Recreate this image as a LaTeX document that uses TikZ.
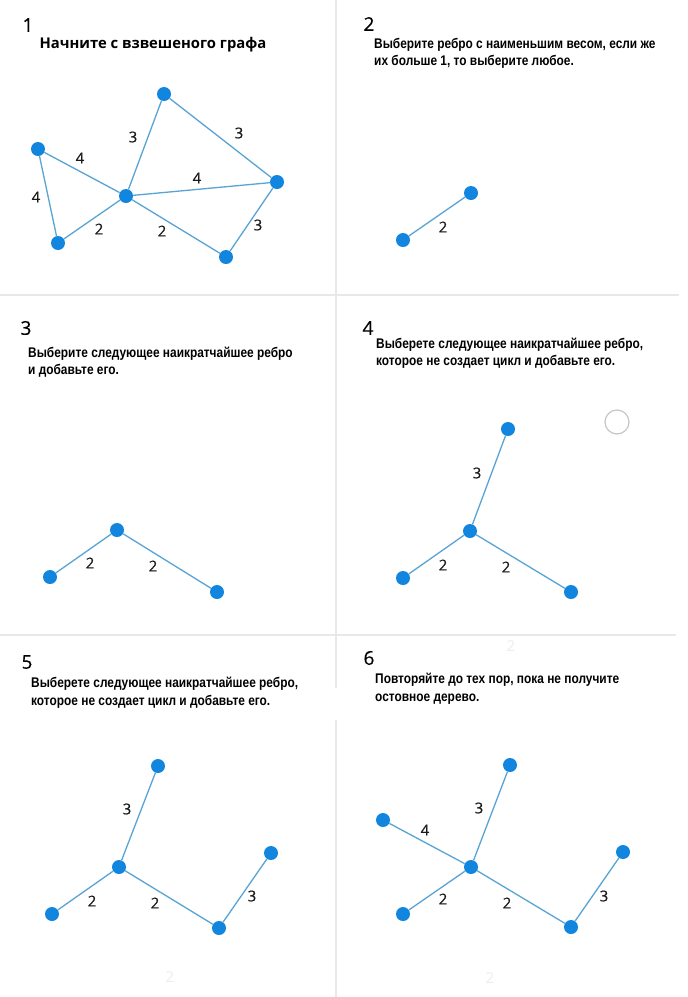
\documentclass[tikz,border=0pt]{standalone}
\usepackage{fontspec}
\usepackage{tikz}
\setmainfont{Open Sans}
\newfontfamily\narrowfont[FakeStretch=0.85]{Liberation Sans}
\newfontfamily\weightfont[FakeBold=0.4]{Open Sans}
\definecolor{dotblue}{RGB}{18,134,222}
\definecolor{lineblue}{RGB}{88,164,212}
\definecolor{rulegray}{RGB}{232,232,232}
\tikzset{
    vertex/.style = {circle, fill=dotblue, inner sep=0pt, minimum size=14pt},
    wt/.style     = {font=\weightfont\fontsize{15}{15}\selectfont, text=black!90, inner sep=0pt},
    stepno/.style = {font=\weightfont\fontsize{19}{19}\selectfont, inner sep=0pt},
    caption/.style= {font=\narrowfont\bfseries\fontsize{14}{17.5}\selectfont, align=left,
                     anchor=north west, inner sep=0pt},
    ghost/.style  = {font=\fontsize{15}{15}\selectfont, text=black!7, inner sep=0pt}
}

\begin{document}
\begin{tikzpicture}[x=1pt, y=-1pt, every edge/.style={draw=lineblue, line width=1.3pt}]
    \useasboundingbox [fill=white] (0,0) rectangle (688,997);

    % Grid lines
    \draw [rulegray, line width=1.5pt] (0,295) -- (679,295);
    \draw [rulegray, line width=1.5pt] (0,635) -- (676,635);
    \draw [rulegray, line width=1.5pt] (336,0) -- (336,688);
    \draw [rulegray, line width=1.5pt] (336,720) -- (336,997);

    % Step numbers and captions
    \node [stepno] (n1) at (28,25)  {1};
    \node [stepno] (n2) at (369,24) {2};
    \node [stepno] (n3) at (26,328) {3};
    \node [stepno] (n4) at (368,328) {4};
    \node [stepno] (n5) at (27,662) {5};
    \node [stepno] (n6) at (369,658) {6};

    \node [font=\bfseries\fontsize{14.8}{14.8}\selectfont, inner sep=0pt] (cap1) at (153,45)
        {Начните с взвешеного графа};
    \node [caption] (cap2) at (374,38)
        {Выберите ребро с наименьшим весом, если же\\их больше 1, то выберите любое.};
    \node [caption] (cap3) at (28,346.5)
        {Выберите следующее наикратчайшее ребро\\и добавьте его.};
    \node [caption] (cap4) at (376,337.5)
        {Выберете следующее наикратчайшее ребро,\\которое не создает цикл и добавьте его.};
    \node [caption] (cap5) at (31,677)
        {Выберете следующее наикратчайшее ребро,\\которое не создает цикл и добавьте его.};
    \node [caption] (cap6) at (375,673)
        {Повторяйте до тех пор, пока не получите\\остовное дерево.};

    % Panel 1: the weighted graph
    \node [vertex] (top1)  at (164,94)  {};
    \node [vertex] (left1) at (38,149)  {};
    \node [vertex] (mid1)  at (126,196) {};
    \node [vertex] (right1) at (277,182) {};
    \node [vertex] (low1)  at (58,243)  {};
    \node [vertex] (lowr1) at (226,257) {};

    \path (left1) edge node [wt, xshift=-2pt,   yshift=14.5pt] {4} (mid1);
    \path (left1) edge node [wt, xshift=-12pt,  yshift=-1pt]   {4} (low1);
    \path (mid1)  edge node [wt, xshift=-12pt,  yshift=8pt]    {3} (top1);
    \path (top1)  edge node [wt, xshift=18.5pt, yshift=5pt]    {3} (right1);
    \path (mid1)  edge node [wt, xshift=-4.5pt, yshift=11pt]   {4} (right1);
    \path (mid1)  edge node [wt, xshift=7pt,    yshift=-9.5pt] {2} (low1);
    \path (mid1)  edge node [wt, xshift=-14pt,  yshift=-4.5pt] {2} (lowr1);
    \path (lowr1) edge node [wt, xshift=6.5pt,  yshift=-5.5pt] {3} (right1);

    % Panel 2
    \node [vertex] (low2) at (403,240) {};
    \node [vertex] (up2)  at (471,193) {};
    \path (low2) edge node [wt, xshift=6pt, yshift=-10.5pt] {2} (up2);

    % Panel 3
    \node [vertex] (mid3)  at (117,530) {};
    \node [vertex] (left3) at (50,577)  {};
    \node [vertex] (right3) at (217,592) {};
    \path (mid3) edge node [wt, xshift=6.5pt, yshift=-9.5pt] {2} (left3);
    \path (mid3) edge node [wt, xshift=-14pt, yshift=-5pt]   {2} (right3);

    % Panel 4
    \draw [gray!45, line width=1.2pt] (617,422) circle (12);
    \node [vertex] (top4)  at (508,429) {};
    \node [vertex] (mid4)  at (470,531) {};
    \node [vertex] (left4) at (403,578) {};
    \node [vertex] (right4) at (571,592) {};
    \path (mid4) edge node [wt, xshift=-12pt,   yshift=7pt]     {3} (top4);
    \path (mid4) edge node [wt, xshift=6.5pt,   yshift=-10.5pt] {2} (left4);
    \path (mid4) edge node [wt, xshift=-14.5pt, yshift=-5.5pt]  {2} (right4);
    \node [ghost] (g4) at (511,646) {2};

    % Panel 5
    \node [vertex] (top5)  at (158,766) {};
    \node [vertex] (mid5)  at (119,867) {};
    \node [vertex] (left5) at (52,914)  {};
    \node [vertex] (lowr5) at (219,928) {};
    \node [vertex] (right5) at (271,853) {};
    \path (mid5)  edge node [wt, xshift=-11.5pt, yshift=7.5pt]   {3} (top5);
    \path (mid5)  edge node [wt, xshift=6.5pt,   yshift=-10.5pt] {2} (left5);
    \path (mid5)  edge node [wt, xshift=-14pt,   yshift=-5.5pt]  {2} (lowr5);
    \path (lowr5) edge node [wt, xshift=7pt,     yshift=-5.5pt]  {3} (right5);
    \node [ghost] (g5) at (170,977) {2};

    % Panel 6: the spanning tree
    \node [vertex] (top6)  at (510,765) {};
    \node [vertex] (left6) at (383,820) {};
    \node [vertex] (mid6)  at (471,867) {};
    \node [vertex] (low6)  at (403,914) {};
    \node [vertex] (lowr6) at (571,927) {};
    \node [vertex] (right6) at (623,852) {};
    \path (mid6)  edge node [wt, xshift=-11.5pt, yshift=8pt]    {3} (top6);
    \path (left6) edge node [wt, xshift=-2pt,    yshift=13.5pt] {4} (mid6);
    \path (mid6)  edge node [wt, xshift=6pt,     yshift=-8.5pt] {2} (low6);
    \path (mid6)  edge node [wt, xshift=-14pt,   yshift=-6pt]   {2} (lowr6);
    \path (lowr6) edge node [wt, xshift=7pt,     yshift=-6.5pt] {3} (right6);
    \node [ghost] (g6) at (490,978) {2};
\end{tikzpicture}
\end{document}
